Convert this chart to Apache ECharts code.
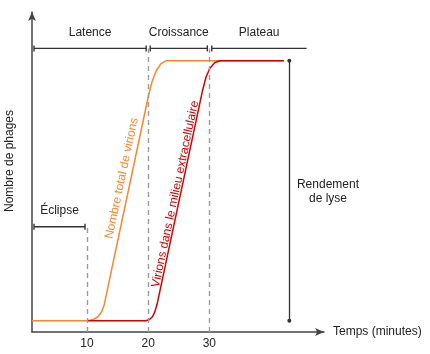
<!DOCTYPE html>
<html>
<head>
<meta charset="utf-8">
<script src="https://cdn.jsdelivr.net/npm/echarts@6/dist/echarts.min.js"></script>
<style>
  html, body { margin: 0; padding: 0; background: #fff; }
  #chart { width: 430px; height: 354px; }
</style>
</head>
<body>
<div id="chart"></div>
<script>
// courbe de croissance en une étape (temps en minutes, phages en unités arbitraires)
var totalVirions = [[1, 1], [10, 1], [11, 1.1], [11.8, 1.35], [12.4, 1.8], [12.8, 2.4], [20, 20.8],
    [20.6, 22.1], [21.3, 23.1], [22.1, 23.75], [22.9, 24], [42.2, 24]];
var virionsExtra = [[10, 1], [19.65, 1], [20.2, 1.1], [20.7, 1.35], [21.1, 1.8], [21.45, 2.45], [28.9, 21.4],
    [29.45, 22.55], [30.1, 23.35], [30.9, 23.85], [31.75, 24], [42.2, 24]];
var tickValues = [10, 20, 30];
var dashTops = [9.32, 25.1, 25.1];
var phaseNames = ['Latence', 'Croissance', 'Plateau'];
var phaseStart = [1.33, 20.33, 30.4];
var phaseEnd = [19.67, 29.67, 45.9];
var eclipse = [1.33, 9.67];
var lyse = [43.08, 1, 24];   // x, bas, haut

var ORANGE = '#fb8431', ROUGE = '#d40000', NOIR = '#333', GRIS = '#9a9a9a';
var FONT = '"Liberation Sans", Arial, sans-serif';

var chart = echarts.init(document.getElementById('chart'));

var dashData = tickValues.map(function (v, i) {
    return [{ coord: [v, 0] }, { coord: [v, dashTops[i]] }];
});

var option = {
    animation: false,
    grid: { left: 32, right: 106, top: 12, bottom: 22 },
    xAxis: {
        type: 'value', min: 1, max: 48.75,
        name: 'Temps (minutes)', nameLocation: 'end', nameGap: 9,
        nameTextStyle: { color: '#222', fontSize: 12, fontFamily: FONT },
        axisLine: { symbol: ['none', 'arrow'], symbolSize: [6, 9], lineStyle: { color: '#444', width: 1.5 } },
        axisTick: { show: false },
        axisLabel: { customValues: tickValues, color: '#222', fontSize: 12, fontFamily: FONT, margin: 6 },
        splitLine: { show: false }
    },
    yAxis: {
        type: 'value', min: 0, max: 28.32,
        axisLine: { show: true, symbol: ['none', 'arrow'], symbolSize: [6, 9], lineStyle: { color: '#444', width: 1.5 } },
        axisTick: { show: false },
        axisLabel: { show: false },
        splitLine: { show: false }
    },
    series: [
        {
            name: 'Nombre total de virions', type: 'line', data: totalVirions,
            showSymbol: false, smooth: false, silent: true,
            lineStyle: { color: ORANGE, width: 1.5 },
            markLine: {
                silent: true, symbol: 'none', label: { show: false },
                lineStyle: { color: GRIS, type: [5, 4], width: 1.4 },
                data: dashData
            }
        },
        {
            name: 'Virions dans le milieu extracellulaire', type: 'line', data: virionsExtra,
            showSymbol: false, smooth: false, silent: true,
            lineStyle: { color: ROUGE, width: 1.5 },
            markLine: {
                silent: true, symbol: ['circle', 'circle'], symbolSize: 4, label: { show: false },
                lineStyle: { color: NOIR, type: 'solid', width: 1.3 },
                itemStyle: { color: '#111' },
                data: [[{ coord: [lyse[0], lyse[1]] }, { coord: [lyse[0], lyse[2]] }]]
            }
        }
    ]
};
chart.setOption(option);

function px(p) { return chart.convertToPixel({ gridIndex: 0 }, p); }

var g = [];
function trait(a, b) {
    g.push({ type: 'line', silent: true, shape: { x1: a[0], y1: a[1], x2: b[0], y2: b[1] },
        style: { stroke: NOIR, lineWidth: 1.4 } });
}
function texte(str, p, color, rot) {
    g.push({ type: 'text', silent: true, x: p[0], y: p[1], rotation: (rot || 0) * Math.PI / 180,
        style: { text: str, fill: color, font: '12px ' + FONT, textAlign: 'center', textVerticalAlign: 'middle',
            align: 'center', verticalAlign: 'middle', lineHeight: 14 } });
}
function crochet(x0, x1, y, tickL, tickR) {
    var a = px([x0, y]), b = px([x1, y]);
    trait(a, b);
    if (tickL) trait([a[0], a[1] - 3], [a[0], a[1] + 3]);
    if (tickR) trait([b[0], b[1] - 3], [b[0], b[1] + 3]);
}

// phases en haut
phaseNames.forEach(function (n, i) {
    crochet(phaseStart[i], phaseEnd[i], 25.1, true, i < phaseNames.length - 1);
    texte(n, px([(phaseStart[i] + phaseEnd[i]) / 2, 26.46]), '#222');
});
// éclipse
crochet(eclipse[0], eclipse[1], 9.32, true, true);
texte('Éclipse', px([(eclipse[0] + eclipse[1]) / 2, 10.73]), '#222');
// rendement
texte('Rendement\nde lyse', px([49.4, 12.4]), '#222');
// étiquettes des courbes
texte('Nombre total de virions', px([15.69, 13.6]), ORANGE, 78);
texte('Virions dans le milieu extracellulaire', px([24.44, 12.21]), ROUGE, 78);
// titre de l'axe y
g.push({ type: 'text', silent: true, x: 10, y: 161, rotation: Math.PI / 2,
    style: { text: 'Nombre de phages', fill: '#222', font: '12px ' + FONT, textAlign: 'center',
        textVerticalAlign: 'middle', align: 'center', verticalAlign: 'middle' } });

chart.setOption({ graphic: g });
</script>
</body>
</html>
